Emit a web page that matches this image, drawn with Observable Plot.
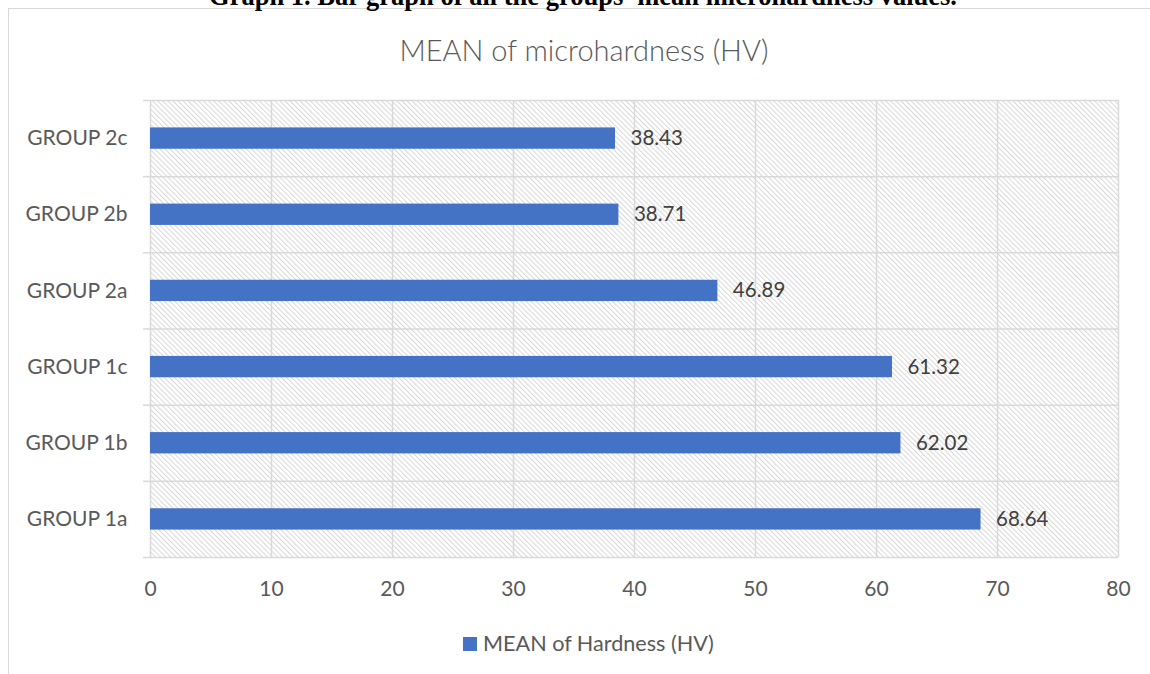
<!DOCTYPE html>
<html><head><meta charset="utf-8">
<script src="https://cdn.jsdelivr.net/npm/d3@7"></script>
<script src="https://cdn.jsdelivr.net/npm/@observablehq/plot@0.6"></script>
<style>
body{margin:0;background:#fff;overflow:hidden;}
#wrap{position:relative;width:1150px;height:674px;overflow:hidden;background:#fff;}
#frame{position:absolute;left:8px;top:8px;width:1300px;height:800px;border-top:1.5px solid #d9d9d9;border-left:1.5px solid #d9d9d9;}
#caption{position:absolute;left:0;width:1166px;top:-17px;text-align:center;font-family:"Liberation Serif","Times New Roman",serif;font-weight:bold;font-size:26.5px;line-height:27px;color:#000;white-space:nowrap;}
#title{position:absolute;left:8px;width:1152px;top:32px;text-align:center;font-family:Lato,"Open Sans",sans-serif;font-weight:300;font-size:29px;line-height:36px;color:#595959;}
#chart{position:absolute;left:0;top:0;}
#legend{position:absolute;left:463px;top:630px;font-family:Lato,"Open Sans",sans-serif;font-size:21.6px;line-height:26px;color:#595959;white-space:nowrap;}
#legend .sw{display:inline-block;width:14px;height:14px;background:#4472C4;margin-right:6px;vertical-align:0px;}
</style></head><body>
<div id="wrap">
<div id="frame"></div>
<div id="caption">Graph 1. Bar graph of all the groups' mean microhardness values.</div>
<div id="title">MEAN of microhardness (HV)</div>
<div id="chart"></div>
<div id="legend"><span class="sw"></span>MEAN of Hardness (HV)</div>
</div>
<script>
const categories = ["GROUP 1a", "GROUP 1b", "GROUP 1c", "GROUP 2a", "GROUP 2b", "GROUP 2c"];
const values = [68.64, 62.02, 61.32, 46.89, 38.71, 38.43];
const xTicks = [0, 10, 20, 30, 40, 50, 60, 70, 80];
const seriesName = "MEAN of Hardness (HV)";

const data = categories.map((c, i) => ({cat: c, i, value: values[i]}));
const bounds = d3.range(categories.length + 1);
const centers = categories.map((c, i) => i + 0.5);

const plot = Plot.plot({
  width: 1150, height: 674,
  marginLeft: 150, marginRight: 32, marginTop: 100, marginBottom: 117,
  style: {fontFamily: "Lato, 'Open Sans', sans-serif", fontSize: "21px", color: "#595959", background: "transparent", overflow: "visible"},
  x: {domain: [0, 80], label: null},
  y: {domain: [0, categories.length], label: null},
  marks: [
    Plot.frame({fill: "url(#hatch)", stroke: null}),
    Plot.ruleX(xTicks, {stroke: "#d9d9d9", strokeWidth: 1.5}),
    Plot.ruleY(bounds, {stroke: "#d9d9d9", strokeWidth: 1.5}),
    Plot.axisY(bounds, {tickSize: 7, tickFormat: () => "", label: null, stroke: "#d9d9d9", strokeWidth: 1.5, strokeOpacity: 1}),
    Plot.axisY(centers, {tickSize: 0, tickPadding: 23, label: null, tickFormat: v => categories[Math.floor(v)], fill: "#595959", fontSize: 21}),
    Plot.axisX(xTicks, {tickSize: 0, tickPadding: 24, label: null, fill: "#595959", fontSize: 21}),
    Plot.rectX(data, {x1: 0, x2: "value", y1: d => d.i + 0.36, y2: d => d.i + 0.64, fill: "#4472C4"}),
    Plot.text(data, {x: "value", y: d => d.i + 0.5, text: d => d.value.toFixed(2), textAnchor: "start", dx: 15, fill: "#404040", fontSize: 20.5})
  ]
});

const ns = "http://www.w3.org/2000/svg";
const defs = document.createElementNS(ns, "defs");
defs.innerHTML = '<pattern id="hatch" patternUnits="userSpaceOnUse" width="3.6" height="3.6" patternTransform="rotate(-45)"><rect width="3.6" height="3.6" fill="#ffffff"/><rect x="0" y="0" width="1" height="3.6" fill="#d8d8d8"/></pattern>';
plot.insertBefore(defs, plot.firstChild);
document.getElementById("chart").appendChild(plot);
</script>
</body></html>
